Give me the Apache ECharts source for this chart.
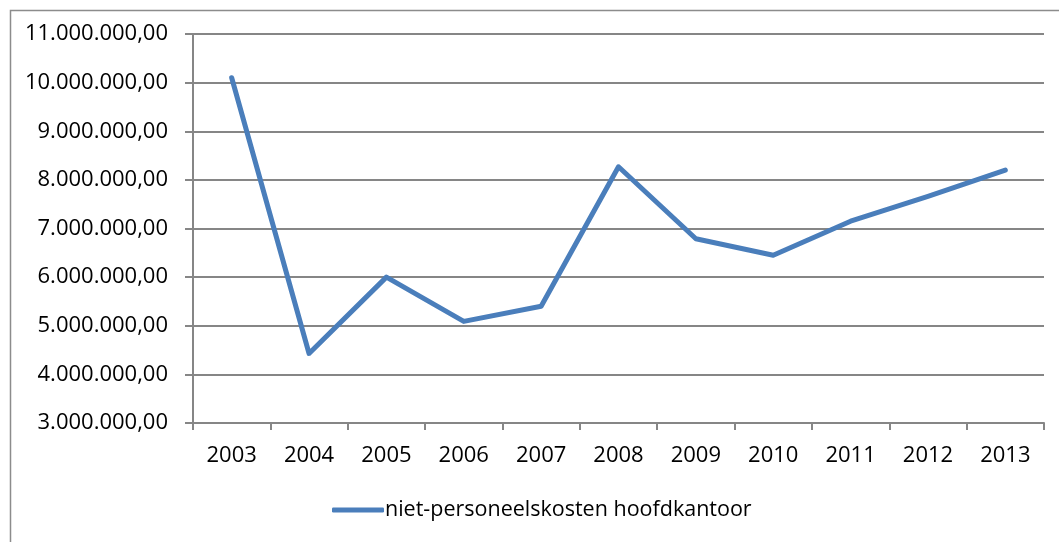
<!DOCTYPE html>
<html>
<head>
<meta charset="utf-8">
<script src="https://cdn.jsdelivr.net/npm/echarts@6/dist/echarts.min.js"></script>
<style>
  html, body { margin: 0; padding: 0; background: #fff; }
  #chart { width: 1059px; height: 542px; }
</style>
</head>
<body>
<div id="chart"></div>
<script>
const years = ['2003', '2004', '2005', '2006', '2007', '2008', '2009', '2010', '2011', '2012', '2013']
const kosten = [10100000, 4430000, 6000000, 5090000, 5400000, 8270000, 6790000, 6450000, 7150000, 7660000, 8200000]
const seriesName = 'niet-personeelskosten hoofdkantoor'

const fontFamily = '"Open Sans", sans-serif'

// 11000000 -> "11.000.000,00"
const formatEuro = (v) => {
  const parts = Math.round(v).toString().replace(/\B(?=(\d{3})+(?!\d))/g, '.')
  return parts + ',00'
}

const chart = echarts.init(document.getElementById('chart'))

const option = {
  animation: false,
  textStyle: { fontFamily },
  graphic: [{
    type: 'rect',
    left: 8,
    top: 8,
    shape: { width: 1100, height: 600 },
    style: { fill: 'none', stroke: '#8c8c8c', lineWidth: 1.5 },
    silent: true
  }],
  grid: {
    left: 193,
    right: 15,
    top: 34,
    bottom: 119
  },
  legend: {
    data: [seriesName],
    left: 327,
    top: 494,
    icon: 'roundRect',
    itemWidth: 52,
    itemHeight: 5,
    itemGap: 6,
    textStyle: { fontFamily, fontSize: 21.5, color: '#000', padding: [0, 0, 0, -4] }
  },
  xAxis: {
    type: 'category',
    data: years,
    boundaryGap: true,
    axisLine: { lineStyle: { color: '#868686', width: 2 } },
    axisTick: { show: true, length: 7, lineStyle: { color: '#868686', width: 2 } },
    axisLabel: { color: '#000', fontSize: 22, fontFamily, margin: 22 }
  },
  yAxis: {
    type: 'value',
    min: 3000000,
    max: 11000000,
    interval: 1000000,
    axisLine: { show: true, lineStyle: { color: '#868686', width: 2 } },
    axisTick: { show: true, length: 8, lineStyle: { color: '#868686', width: 2 } },
    axisLabel: { color: '#000', fontSize: 22, fontFamily, margin: 25, formatter: formatEuro },
    splitLine: { lineStyle: { color: '#868686', width: 2 } }
  },
  series: [{
    name: seriesName,
    type: 'line',
    data: kosten,
    showSymbol: false,
    symbol: 'none',
    lineStyle: { color: '#4a7ebb', width: 5, cap: 'round', join: 'round' },
    itemStyle: { color: '#4a7ebb' }
  }]
}

chart.setOption(option)
</script>
</body>
</html>
